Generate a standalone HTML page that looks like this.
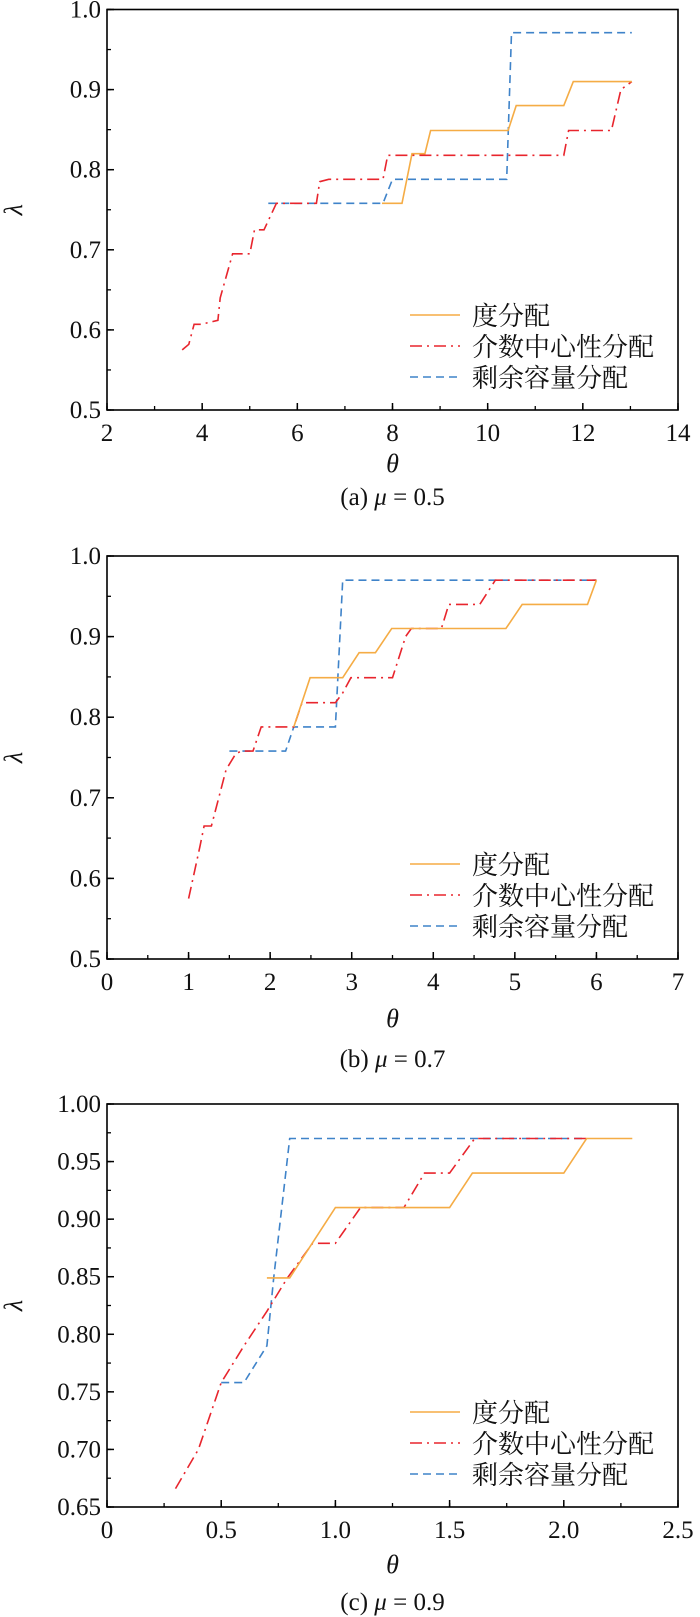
<!DOCTYPE html>
<html><head><meta charset="utf-8">
<style>
html,body{margin:0;padding:0;background:#fff;}
svg{display:block;font-family:"Liberation Serif","Noto Serif CJK SC",serif;}
</style></head>
<body>
<svg id="fig" width="700" height="1617" viewBox="0 0 700 1617" xmlns="http://www.w3.org/2000/svg"></svg>
<script>
// ---- Panel (a) mu=0.5 ----
const aDegX = [7.78, 8.2, 8.41, 8.68, 8.8, 10.43, 10.6, 11.6, 11.8, 13.03];
const aDegY = [0.758, 0.758, 0.82, 0.82, 0.849, 0.849, 0.88, 0.88, 0.91, 0.91];
const aBetX = [3.58, 3.72, 3.83, 3.98, 4.33, 4.38, 4.64, 5.0, 5.1, 5.3, 5.56, 6.4, 6.47, 6.66, 7.8, 7.9, 11.6, 11.7, 12.6, 12.8, 13.03];
const aBetY = [0.575, 0.582, 0.607, 0.607, 0.612, 0.64, 0.695, 0.695, 0.725, 0.725, 0.758, 0.758, 0.785, 0.788, 0.788, 0.818, 0.818, 0.849, 0.849, 0.9, 0.91];
const aResX = [5.39, 7.8, 8.0, 10.4, 10.5, 13.03];
const aResY = [0.758, 0.758, 0.788, 0.788, 0.971, 0.971];
const aXTicks = ["2","4","6","8","10","12","14"];
const aYTicks = ["0.5","0.6","0.7","0.8","0.9","1.0"];
// ---- Panel (b) mu=0.7 ----
const bDegX = [2.29, 2.49, 2.89, 3.09, 3.29, 3.49, 4.89, 5.09, 5.89, 6.0];
const bDegY = [0.788, 0.849, 0.849, 0.88, 0.88, 0.91, 0.91, 0.94, 0.94, 0.97];
const bBetX = [1.0, 1.14, 1.19, 1.28, 1.46, 1.58, 1.65, 1.79, 1.89, 2.29, 2.39, 2.8, 2.89, 2.99, 3.5, 3.66, 3.73, 4.1, 4.19, 4.57, 4.76, 6.0];
const bBetY = [0.575, 0.64, 0.665, 0.665, 0.735, 0.755, 0.758, 0.758, 0.788, 0.788, 0.818, 0.818, 0.83, 0.849, 0.849, 0.9, 0.91, 0.91, 0.94, 0.94, 0.97, 0.97];
const bResX = [1.5, 2.19, 2.29, 2.8, 2.89, 6.0];
const bResY = [0.758, 0.758, 0.788, 0.788, 0.97, 0.97];
const bXTicks = ["0","1","2","3","4","5","6","7"];
const bYTicks = ["0.5","0.6","0.7","0.8","0.9","1.0"];
// ---- Panel (c) mu=0.9 ----
const cDegX = [0.7, 0.8, 1.0, 1.5, 1.6, 2.0, 2.1, 2.3];
const cDegY = [0.849, 0.849, 0.91, 0.91, 0.94, 0.94, 0.97, 0.97];
const cBetX = [0.3, 0.4, 0.5, 0.6, 0.7, 0.79, 0.9, 1.0, 1.11, 1.3, 1.39, 1.5, 1.61, 2.1];
const cBetY = [0.666, 0.7, 0.758, 0.79, 0.82, 0.849, 0.879, 0.879, 0.91, 0.91, 0.94, 0.94, 0.97, 0.97];
const cResX = [0.5, 0.6, 0.7, 0.73, 0.8, 2.1];
const cResY = [0.758, 0.758, 0.79, 0.849, 0.97, 0.97];
const cXTicks = ["0","0.5","1.0","1.5","2.0","2.5"];
const cYTicks = ["0.65","0.70","0.75","0.80","0.85","0.90","0.95","1.00"];

const legendNames = ["度分配","介数中心性分配","剩余容量分配"];
const NS = "http://www.w3.org/2000/svg";
const svg = document.getElementById("fig");
const COL = {deg:"#f5ac45", bet:"#e8252d", res:"#3f83c9"};
const DASH = {deg:"", bet:"12 5 2 5", res:"8 5"};

function mk(tag, attrs, parent){
  const e = document.createElementNS(NS, tag);
  for (const k in attrs) e.setAttribute(k, attrs[k]);
  (parent||svg).appendChild(e);
  return e;
}

function panel(cfg){
  const L=107, R=678, T=cfg.top, B=cfg.bottom;
  const g = mk("g", {});
  
  
  const xs = v => L + (v - cfg.xmin) / (cfg.xmax - cfg.xmin) * (R - L);
  const ys = v => B - (v - cfg.ymin) / (cfg.ymax - cfg.ymin) * (B - T);
  for (let v = cfg.xmin; v <= cfg.xmax + 1e-9; v += cfg.xminor){
    const t = mk("line",{x1:xs(v),x2:xs(v),y1:B,y2:B-4,stroke:"#000","stroke-width":1.3},g);
    
    
  }
  for (let v = cfg.ymin; v <= cfg.ymax + 1e-9; v += cfg.yminor){
    const t = mk("line",{x1:L,x2:L+4,y1:ys(v),y2:ys(v),stroke:"#000","stroke-width":1.3},g);
    
    
  }
  cfg.xt.forEach(s => {
    const v = parseFloat(s);
    const t = mk("line",{x1:xs(v),x2:xs(v),y1:B,y2:B-7,stroke:"#000","stroke-width":1.5},g);
    
    
    const tx = mk("text",{x:xs(v),y:B+31,"text-anchor":"middle","font-size":25,fill:"#111"},g);
    tx.textContent = s;
    
    
  });
  cfg.yt.forEach(s => {
    const v = parseFloat(s);
    const t = mk("line",{x1:L,x2:L+7,y1:ys(v),y2:ys(v),stroke:"#000","stroke-width":1.5},g);
    
    
    const tx = mk("text",{x:L-6,y:ys(v)+8,"text-anchor":"end","font-size":25,fill:"#111"},g);
    tx.textContent = s;
    
    
  });
  const series = [["res",cfg.resX,cfg.resY],["bet",cfg.betX,cfg.betY],["deg",cfg.degX,cfg.degY]];
  series.forEach(([k,X,Y]) => {
    const pts = X.map((x,i)=>xs(x).toFixed(1)+","+ys(Y[i]).toFixed(1)).join(" ");
    const p = mk("polyline",{points:pts,fill:"none",stroke:COL[k],"stroke-width":1.6,"stroke-dasharray":DASH[k]},g);
    
    
  });
  const fr = mk("rect",{x:L,y:T,width:R-L,height:B-T,fill:"none",stroke:"#000","stroke-width":1.6},g);
  
  
  const lg = mk("g",{},g);
  
  
  ["deg","bet","res"].forEach((k,i) => {
    const y = B - 95 + i*31;
    const ln = mk("line",{x1:410,x2:460,y1:y,y2:y,stroke:COL[k],"stroke-width":1.6,"stroke-dasharray":DASH[k]},lg);
    
    
    const tx = mk("text",{x:472,y:y+10,"font-size":26,fill:"#111","font-family":"'Noto Serif CJK SC','Noto Sans CJK SC',serif"},lg);
    tx.textContent = legendNames[i];
    
    
  });
  const xt = mk("text",{x:(L+R)/2,y:B+cfg.thetaOff,"text-anchor":"middle","font-size":26,"font-style":"italic",fill:"#111"},g);
  xt.textContent = "θ";
  
  
  const yc = (T+B)/2;
  const yt = mk("text",{x:22,y:yc,"text-anchor":"middle","font-size":26,"font-style":"italic",fill:"#111",transform:`rotate(-90 22 ${yc})`},g);
  yt.textContent = "λ";
  
  
  const cap = mk("text",{x:(L+R)/2,y:B+cfg.capOff,"text-anchor":"middle","font-size":25,fill:"#111"},g);
  cap.innerHTML = cfg.cap[0] + ' <tspan font-style="italic">μ</tspan> = ' + cfg.cap[1];
  
  
}

panel({id:"panel-a",top:9.5,bottom:410,xmin:2,xmax:14,ymin:0.5,ymax:1.0,xminor:1,yminor:0.05,
  xt:aXTicks,yt:aYTicks,degX:aDegX,degY:aDegY,betX:aBetX,betY:aBetY,resX:aResX,resY:aResY,
  thetaOff:62,capOff:95,cap:["(a)","0.5"]});
panel({id:"panel-b",top:556,bottom:959,xmin:0,xmax:7,ymin:0.5,ymax:1.0,xminor:0.5,yminor:0.05,
  xt:bXTicks,yt:bYTicks,degX:bDegX,degY:bDegY,betX:bBetX,betY:bBetY,resX:bResX,resY:bResY,
  thetaOff:68,capOff:108,cap:["(b)","0.7"]});
panel({id:"panel-c",top:1104,bottom:1507,xmin:0,xmax:2.5,ymin:0.65,ymax:1.0,xminor:0.25,yminor:0.025,
  xt:cXTicks,yt:cYTicks,degX:cDegX,degY:cDegY,betX:cBetX,betY:cBetY,resX:cResX,resY:cResY,
  thetaOff:66,capOff:103,cap:["(c)","0.9"]});
</script>
</body></html>
